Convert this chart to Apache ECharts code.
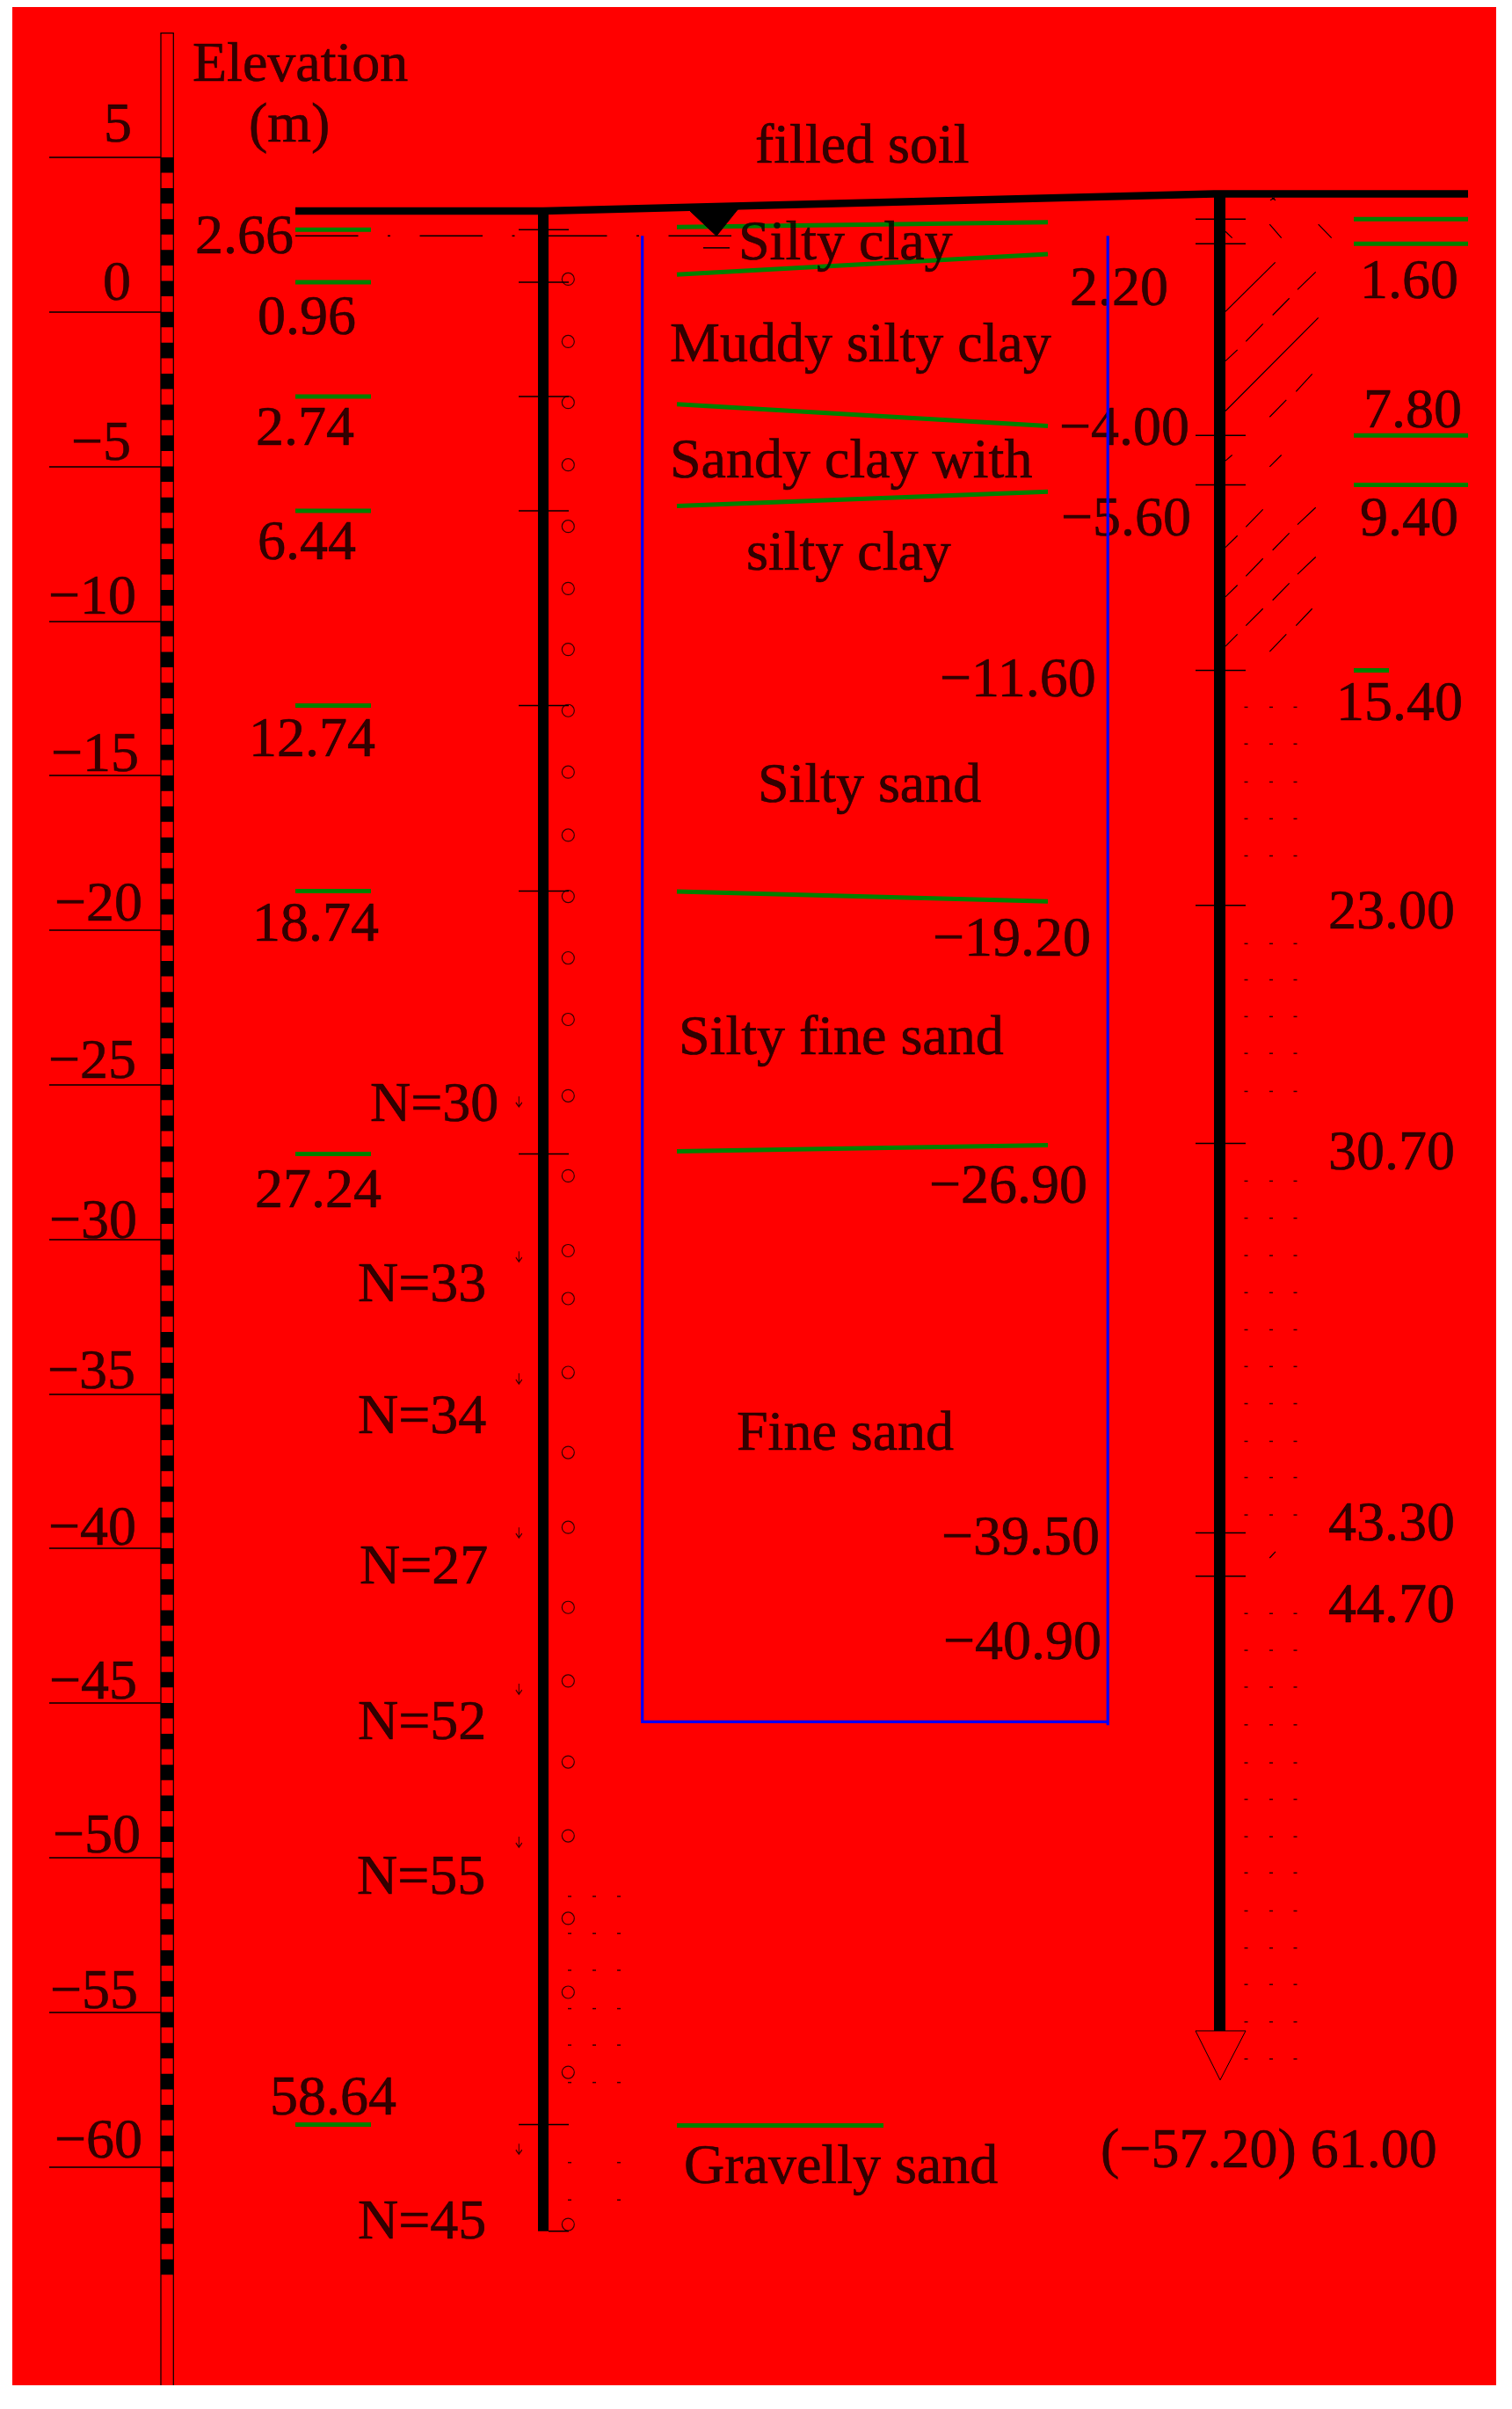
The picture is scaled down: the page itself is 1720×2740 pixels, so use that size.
<!DOCTYPE html>
<html lang="en">
<head>
    <meta charset="UTF-8">
    <title>Borehole section</title>
    <script src="https://cdn.jsdelivr.net/npm/echarts@6/dist/echarts.min.js"></script>
    <style>
        body { margin: 0; background: #fff; }
        #chartmain { width: 1720px; height: 2740px; }
    </style>
</head>
<body>
<div id="chartmain"></div>
<script type="text/javascript">
    // elevation scale (m)
    var elevTicks = [5, 0, -5, -10, -15, -20, -25, -30, -35, -40, -45, -50, -55, -60];

    // ground surface, x along the section, elevation
    var groundX = [336, 618, 1381, 1670];
    var groundElev = [3.26, 3.26, 3.815, 3.815];

    // borehole 1 (left)
    var bore1X = 618;
    var bore1Bottom = -62.09;
    var bore1Layers = [2.66, 0.96, -2.74, -6.44, -12.74, -18.74, -27.24, -58.64];
    var bore1Depths = ['2.66', '0.96', '2.74', '6.44', '12.74', '18.74', '27.24', '58.64'];

    // borehole 2 (right)
    var bore2X = 1387.5;
    var bore2Bottom = -55.61;
    var bore2Tip = -57.2;
    var bore2Layers = [3.0, 2.2, -4.0, -5.6, -11.6, -19.2, -26.9, -39.5, -40.9];
    var bore2Green = [3.0, 2.2, -4.0, -5.6];
    var bore2DepthText = ['1.60', '7.80', '9.40', '15.40', '23.00', '30.70', '43.30', '44.70', '(\u221257.20) 61.00'];
    var midElevText = ['2.20', '\u22124.00', '\u22125.60', '\u221211.60', '\u221219.20', '\u221226.90', '\u221239.50', '\u221240.90'];

    // strata boundaries between the holes: left elev, right elev
    var strataLeft = [2.74, 1.21, -2.99, -6.28, -18.75, -27.16];
    var strataRight = [2.90, 1.87, -3.69, -5.82, -19.07, -26.96];
    var gravelTop = -58.67;
    var stratumNames = ['filled soil', 'Silty clay', 'Muddy silty clay', 'Sandy clay with', 'silty clay',
        'Silty sand', 'Silty fine sand', 'Fine sand', 'Gravelly sand'];

    // water level
    var waterElev = 2.455;
    var waterMark = 2.07;

    // SPT tests in hole 1
    var sptCircles = [1.06, -0.96, -2.93, -4.95, -6.94, -8.95, -10.92, -12.90, -14.89, -16.93, -18.91, -20.90,
        -22.89, -25.36, -27.95, -30.37, -31.92, -34.31, -36.90, -39.32, -41.91, -44.29, -46.91, -49.30,
        -51.97, -54.36, -56.95, -61.87];
    var sptArrows = [-25.55, -30.56, -34.51, -39.49, -44.55, -49.50, -59.43];
    var sptText = ['N=30', 'N=33', 'N=34', 'N=27', 'N=52', 'N=55', 'N=45'];

    // sand dots
    var bore1Dots = [-51.26, -52.46, -53.65, -54.89, -56.07, -57.28];
    var bore1DotsLow = [-59.87, -61.08];
    var bore2Dots = [-12.79, -13.98, -15.21, -16.40, -17.60, -20.44, -21.61, -22.80, -23.99, -25.22, -28.12,
        -29.32, -30.53, -31.73, -32.93, -34.12, -35.32, -36.54, -37.71, -38.92, -42.11, -43.30, -44.49,
        -45.71, -46.94, -48.12, -49.33, -50.50, -51.73, -52.93, -54.11, -55.32, -56.52];

    // clay hatching next to hole 2: x1, elev1, x2, elev2
    var hatch = [
        [1394, 2.60, 1401.7, 2.39], [1444.3, 2.83, 1457.7, 2.39], [1499.7, 2.83, 1514.7, 2.39],
        [1445, 3.61, 1450, 3.69], [1447, 3.69, 1451, 3.61],
        [1394, 0.01, 1450.7, 1.60], [1476, 0.72, 1496.7, 1.29], [1447.7, -0.11, 1466.7, 0.44],
        [1417.3, -0.96, 1436.7, -0.39], [1394, -1.59, 1407.7, -1.23], [1394, -3.21, 1499.7, -0.19],
        [1474.3, -2.58, 1492.7, -2.01], [1444.3, -3.40, 1463.3, -2.85],
        [1394, -4.82, 1401.7, -4.63], [1444.3, -5.01, 1457.7, -4.63],
        [1417.3, -6.96, 1436.7, -6.39], [1476, -6.88, 1496.7, -6.33], [1394, -7.62, 1407.7, -7.24],
        [1447.7, -7.71, 1466.7, -7.16], [1417.3, -8.55, 1436.7, -7.98], [1476, -8.49, 1496.7, -7.93],
        [1394, -9.22, 1407.7, -8.84], [1447.7, -9.33, 1466.7, -8.78], [1417.3, -10.15, 1436.7, -9.60],
        [1474.3, -10.15, 1492.7, -9.60], [1394, -10.82, 1407.7, -10.43], [1444.3, -10.99, 1463.3, -10.43],
        [1444.3, -40.31, 1451, -40.11]
    ];

    // page layout of the scale
    var TOP = 8, HEIGHT = 2705, PX_PER_M = 35.16, ELEV_TOP = 9.86;
    var ELEV_BOTTOM = ELEV_TOP - HEIGHT / PX_PER_M;
    var TEXT_SHIFT = 5;
    function elevAt(y) { return ELEV_TOP - (y - TOP) / PX_PER_M; }

    function fmtTick(v) { return v < 0 ? '\u2212' + (-v) : String(v); }

    function segments(name, data, color, width, z) {
        return {
            name: name,
            type: 'custom',
            silent: true,
            z: z || 2,
            data: data,
            renderItem: function (params, api) {
                var a = api.coord([api.value(0), api.value(1)]);
                var b = api.coord([api.value(2), api.value(3)]);
                return {
                    type: 'line',
                    shape: { x1: a[0], y1: a[1], x2: b[0], y2: b[1] },
                    style: { stroke: color, lineWidth: width, fill: null }
                };
            }
        };
    }

    function polyline(name, pts, color, width, dash, z) {
        return {
            name: name,
            type: 'line',
            silent: true,
            z: z || 2,
            data: pts,
            showSymbol: false,
            symbol: 'none',
            lineStyle: { color: color, width: width, type: dash || 'solid', cap: 'butt', join: 'miter' }
        };
    }

    function polygon(name, pts, fill, stroke) {
        return {
            name: name,
            type: 'custom',
            silent: true,
            z: 3,
            data: [0],
            renderItem: function (params, api) {
                return {
                    type: 'polygon',
                    shape: { points: pts.map(function (p) { return api.coord(p); }) },
                    style: { fill: fill, stroke: stroke, lineWidth: 1 }
                };
            }
        };
    }

    function texts(name, strs, xs, ys, align) {
        return {
            name: name,
            type: 'scatter',
            silent: true,
            z: 5,
            symbolSize: 1,
            itemStyle: { color: 'transparent' },
            data: strs.map(function (s, i) {
                return { value: [xs[i], elevAt(ys[i] + TEXT_SHIFT)], text: s };
            }),
            label: {
                show: true,
                position: 'inside',
                distance: 0,
                align: align || 'left',
                verticalAlign: 'middle',
                fontFamily: '"Liberation Serif"',
                fontSize: 64,
                color: '#000',
                textBorderColor: '#000',
                textBorderWidth: 0.6,
                formatter: function (p) { return p.data.text; }
            }
        };
    }

    function dots(name, elevs, xs) {
        var data = [];
        elevs.forEach(function (e) { xs.forEach(function (x) { data.push([x, e]); }); });
        return {
            name: name,
            type: 'scatter',
            silent: true,
            z: 2,
            symbol: 'rect',
            symbolSize: [4, 1.5],
            itemStyle: { color: '#000' },
            data: data
        };
    }

    function mapTicks(list, x1, x2) {
        return list.map(function (e) { return [x1, e, x2, e]; });
    }

    var option = {
        backgroundColor: '#fff',
        animation: false,
        grid: { show: true, left: 14, top: TOP, width: 1688, height: HEIGHT, backgroundColor: '#ff0000', borderWidth: 0 },
        xAxis: { type: 'value', min: 14, max: 1702, show: false },
        yAxis: {
            type: 'value',
            min: ELEV_BOTTOM,
            max: ELEV_TOP,
            position: 'left',
            offset: -169,
            axisLine: { show: false },
            splitLine: { show: false },
            axisLabel: { show: false },
            axisTick: { show: true, length: 127, customValues: elevTicks, lineStyle: { color: '#000', width: 1.5 } }
        },
        series: [
            // elevation column
            polyline('column', [[183, ELEV_BOTTOM], [183, 9.02], [197.3, 9.02], [197.3, ELEV_BOTTOM]], '#000', 1.2),
            polyline('column blocks', [[190.1, 5], [190.1, -63.5]], '#000', 14.5, [PX_PER_M / 2, PX_PER_M / 2]),

            // water level
            polyline('water level', [[336, waterElev], [832, waterElev]], '#000', 1.5, [71.5, 33.5, 3, 33.5]),
            segments('water mark', [[800, waterMark, 830, waterMark]], '#000', 1.5),
            polygon('water symbol', [[785, 3.26], [844.5, 3.5], [815, waterElev]], '#000', '#000'),

            // boreholes
            segments('hole 1 ticks', mapTicks(bore1Layers, 590, 647).concat([[624, bore1Bottom, 647, bore1Bottom]]), '#000', 1.5),
            segments('hole 2 ticks', mapTicks(bore2Layers, 1360, 1417), '#000', 1.5),
            polyline('hole 1', [[bore1X, groundElev[1]], [bore1X, bore1Bottom]], '#000', 12, 'solid', 3),
            polyline('hole 2', [[bore2X, groundElev[2]], [bore2X, bore2Bottom]], '#000', 13, 'solid', 3),
            polygon('hole 2 tip', [[1360, bore2Bottom], [1417, bore2Bottom], [1388, bore2Tip]], 'transparent', '#000'),
            polyline('ground', groundX.map(function (x, i) { return [x, groundElev[i]]; }), '#000', 8.5, 'solid', 3),

            // strata
            segments('hole 1 strata', mapTicks(bore1Layers, 336, 422), '#008000', 5),
            segments('hole 2 strata', mapTicks(bore2Green, 1540, 1670).concat([[1540, bore2Layers[4], 1580, bore2Layers[4]]]), '#008000', 5),
            segments('strata', strataLeft.map(function (e, i) { return [770, e, 1192, strataRight[i]]; })
                .concat([[770, gravelTop, 1005, gravelTop]]), '#008000', 5),

            // hatching and dots
            segments('hatch', hatch, '#000', 1.2),
            dots('hole 2 sand', bore2Dots, [1417.5, 1446, 1473.5]),
            dots('hole 1 sand', bore1Dots, [648, 676, 704]),
            dots('hole 1 sand low', bore1DotsLow, [648, 704]),

            // SPT
            {
                name: 'spt circles',
                type: 'scatter',
                silent: true,
                symbol: 'circle',
                symbolSize: 14,
                itemStyle: { color: 'transparent', borderColor: '#000', borderWidth: 1.2 },
                data: sptCircles.map(function (e) { return [646.3, e]; })
            },
            {
                name: 'spt arrows',
                type: 'scatter',
                silent: true,
                symbol: 'path://M5 0L5 12M2 7L5 12L8 7',
                symbolSize: [7, 12],
                itemStyle: { color: 'transparent', borderColor: '#000', borderWidth: 1.3 },
                data: sptArrows.map(function (e) { return [590.3, e]; })
            },

            // text
            texts('elevation title', ['Elevation', '(m)'], [219, 283], [70, 139]),
            texts('scale labels', elevTicks.map(fmtTick),
                [150, 149, 149, 155, 158, 162, 155, 156, 154, 155, 156, 160, 157, 162],
                [139, 319, 501, 676, 855, 1025, 1204, 1386, 1557, 1735, 1910, 2085, 2262, 2432], 'right'),
            texts('hole 1 depths', bore1Depths, [222, 293, 291, 293, 283, 287, 290, 307],
                [266, 358, 484, 614, 838, 1048, 1351, 2383]),
            texts('spt labels', sptText, [421, 407, 407, 409, 407, 406, 407],
                [1253, 1458, 1608, 1779, 1956, 2132, 2524]),
            texts('strata names', stratumNames, [859, 840, 762, 762, 849, 862, 772, 838, 778],
                [163, 273, 389, 521, 626, 890, 1177, 1627, 2461]),
            texts('mid elevations', midElevText, [1217, 1205, 1207, 1069, 1061, 1057, 1071, 1073],
                [325, 484, 587, 770, 1065, 1346, 1746, 1865]),
            texts('hole 2 depths', bore2DepthText, [1547, 1551, 1547, 1520, 1511, 1511, 1511, 1511, 1252],
                [317, 464, 587, 797, 1034, 1308, 1730, 1823, 2443]),

            // the blue frame sits above the text
            polyline('frame', [[730.7, waterElev], [730.7, -45.61], [1260.2, -45.61], [1260.2, waterElev], [1260.2, -45.72]], '#0000ff', 3.2, 'solid', 6)
        ]
    };

    var myChart = echarts.init(document.getElementById('chartmain'));
    myChart.setOption(option);
</script>
</body>
</html>
